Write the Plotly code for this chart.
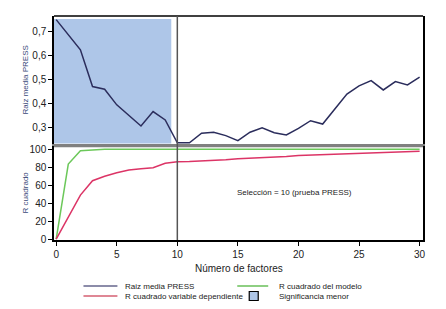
import plotly.graph_objects as go

# ---- data ----
factors = list(range(0, 31))
raiz_press = [0.750, 0.687, 0.624, 0.471, 0.460, 0.395, 0.349, 0.307, 0.367, 0.332,
              0.237, 0.237, 0.277, 0.281, 0.267, 0.246, 0.281, 0.299, 0.279, 0.270,
              0.297, 0.329, 0.315, 0.378, 0.440, 0.474, 0.496, 0.457, 0.492, 0.478, 0.510]
r2_modelo = [0, 83.6, 98.5, 99.6, 100, 100, 100, 100, 100, 100,
             100, 100, 100, 100, 100, 100, 100, 100, 100, 100,
             100, 100, 100, 100, 100, 100, 100, 100, 100, 100, 100]
r2_dependiente = [0, 25, 49, 65, 70, 74, 77, 78.4, 79.5, 84.4,
                  86.2, 86.5, 87, 87.5, 88.5, 89.5, 90, 90.5, 91, 92,
                  93, 93.5, 94, 94.5, 95, 95.5, 96, 96.5, 97, 97.5, 98]
shade_x = [-0.2, 9.5]          # factor range of "Significancia menor"
shade_y = [0.234, 0.753]       # RMS PRESS range of the shaded block
seleccion = 10
top_ticks = [0.3, 0.4, 0.5, 0.6, 0.7]
bottom_ticks = [0, 20, 40, 60, 80, 100]
x_ticks = [0, 5, 10, 15, 20, 25, 30]
legend_labels = ["Raiz media PRESS", "R cuadrado del modelo",
                 "R cuadrado variable dependiente", "Significancia menor"]

FONT = "Liberation Sans, Arial, sans-serif"
NAVY = "#2b2d5c"
GREEN = "#6cc85a"
RED = "#dc3466"
SHADE = "#aec6e8"
TITLE_C = "#3a4a7a"

fig = go.Figure()

fig.add_trace(go.Bar(
    x=[(shade_x[0] + shade_x[1]) / 2], y=[shade_y[1] - shade_y[0]], base=[shade_y[0]],
    width=[shade_x[1] - shade_x[0]], marker=dict(color=SHADE, line=dict(width=0)),
    xaxis="x", yaxis="y", name=legend_labels[3], hoverinfo="skip"))
fig.add_trace(go.Scatter(x=factors, y=raiz_press, mode="lines", name=legend_labels[0],
                         line=dict(color=NAVY, width=1.5), xaxis="x", yaxis="y"))
fig.add_trace(go.Scatter(x=factors, y=r2_modelo, mode="lines", name=legend_labels[1],
                         line=dict(color=GREEN, width=1.5), xaxis="x2", yaxis="y2"))
fig.add_trace(go.Scatter(x=factors, y=r2_dependiente, mode="lines", name=legend_labels[2],
                         line=dict(color=RED, width=1.5), xaxis="x2", yaxis="y2"))

# the page body has an 8px margin, so the figure is 8px smaller and shifted
xr = [-0.18, 30.28]
fig.update_layout(
    width=438, height=293,
    margin=dict(l=45.5, r=23, t=8, b=61, autoexpand=False),
    paper_bgcolor="white", plot_bgcolor="white",
    separators=",.",
    barmode="overlay",
    showlegend=False,
    font=dict(family=FONT, size=10, color="#222"),
    xaxis=dict(domain=[0, 1], anchor="y", range=xr, matches="x2", showticklabels=False,
               showgrid=False, zeroline=False, showline=True, linecolor="#808080",
               linewidth=2.5, ticks="", automargin=False),
    yaxis=dict(domain=[0.4286, 1], anchor="x", range=[0.232, 0.765], tickvals=top_ticks,
               tickformat=".1f", showgrid=False, zeroline=False, showline=True,
               linecolor="black", linewidth=1.5, mirror=True, ticks="outside", ticklen=4,
               tickcolor="black", automargin=False),
    xaxis2=dict(domain=[0, 1], anchor="y2", range=xr, tickvals=x_ticks, showgrid=False,
                zeroline=False, showline=True, linecolor="black", linewidth=1.5,
                ticks="outside", ticklen=4, tickcolor="black", automargin=False),
    yaxis2=dict(domain=[0, 0.4196], anchor="x2", range=[-1, 103.7], tickvals=bottom_ticks,
                showgrid=False, zeroline=False, showline=True, linecolor="black",
                linewidth=1.5, mirror=True, ticks="outside", ticklen=4, tickcolor="black",
                automargin=False),
)

# borders
fig.add_shape(type="line", xref="x domain", yref="y domain", x0=0, x1=1, y0=1, y1=1,
              line=dict(color="black", width=1.5))
fig.add_shape(type="line", xref="x2 domain", yref="y2 domain", x0=0, x1=1, y0=1, y1=1,
              line=dict(color="#808080", width=2.5))
# selection line
fig.add_shape(type="line", xref="x", yref="paper", x0=seleccion, x1=seleccion, y0=0, y1=1,
              line=dict(color="#555555", width=1.5))

fig.add_annotation(x=19.7, y=52, xref="x2", yref="y2",
                   text="Selección = 10 (prueba PRESS)", showarrow=False,
                   font=dict(size=8, color="#222"))


def px(xp):
    return (xp - 53.5) / 369.5


def py(yp):
    return (240 - yp) / 224


# axis titles
fig.add_annotation(x=0.5, y=py(268), xref="paper", yref="paper", text="Número de factores",
                   showarrow=False, font=dict(size=10, color="#222"),
                   xanchor="center", yanchor="middle")
fig.add_annotation(x=px(24), y=py(80), xref="paper", yref="paper",
                   text="Raiz media PRESS", textangle=-90, showarrow=False,
                   xanchor="center", yanchor="middle", font=dict(size=8, color=TITLE_C))
fig.add_annotation(x=px(24), y=py(193), xref="paper", yref="paper",
                   text="R cuadrado", textangle=-90, showarrow=False,
                   xanchor="center", yanchor="middle", font=dict(size=8, color=TITLE_C))

# manual legend (two columns)
leg_lines = [(83, 117, 286, "#1a1a55", legend_labels[0], 123),
             (237, 268, 286, "#44b030", legend_labels[1], 277),
             (83, 117, 296, "#c0102c", legend_labels[2], 123)]
for x0, x1, yy, col, lab, tx in leg_lines:
    fig.add_shape(type="line", xref="paper", yref="paper", x0=px(x0), x1=px(x1),
                  y0=py(yy), y1=py(yy), line=dict(color=col, width=1.2))
    fig.add_annotation(x=px(tx), y=py(yy), xref="paper", yref="paper", text=lab,
                       showarrow=False, xanchor="left", yanchor="middle",
                       font=dict(size=8, color="#222"))
fig.add_shape(type="rect", xref="paper", yref="paper", x0=px(249), x1=px(258),
              y0=py(291.5), y1=py(300.5), fillcolor=SHADE, line=dict(color="black", width=1.2))
fig.add_annotation(x=px(277), y=py(296), xref="paper", yref="paper", text=legend_labels[3],
                   showarrow=False, xanchor="left", yanchor="middle",
                   font=dict(size=8, color="#222"))

fig.write_html("out.html")
